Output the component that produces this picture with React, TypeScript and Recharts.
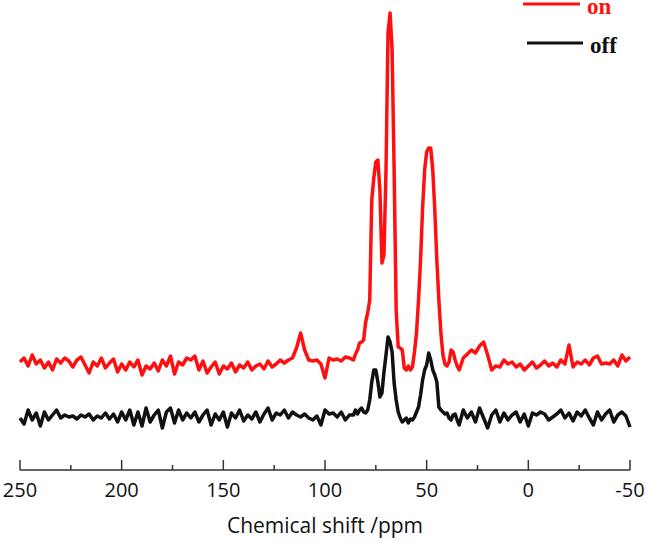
import React from "react";
import { LineChart, Line, XAxis, YAxis } from "recharts";

const ppm: number[] = [
  250, 248, 246, 244, 242, 240, 238, 236, 234, 232, 230, 228, 226, 224, 222, 220, 218, 216, 214, 212,
  210, 208, 206, 204, 202, 200, 198, 196, 194, 192, 190, 188, 186, 184, 182, 180, 178, 176, 174, 172,
  170, 168, 166, 164, 162, 160, 158, 156, 154, 152, 150, 148, 146, 144, 142, 140, 138, 136, 134, 132,
  130, 128, 126, 124, 122, 120, 118, 116, 114, 112, 110, 108, 106, 104, 102, 100, 98, 96, 94, 92,
  90, 88,
  86, 85, 84, 83, 82, 81, 80, 79, 78, 77, 76, 75, 74, 73, 72, 71, 70, 69, 68, 67,
  66, 65, 64, 63, 62, 61, 60, 59, 58, 57, 56, 55, 54, 53, 52, 51, 50, 49, 48, 47,
  46, 45, 44, 43, 42, 41, 40, 39, 38, 37, 36, 35, 34,
  32, 30, 28, 26, 24, 22, 20, 18, 16, 14, 12,
  10, 8, 6, 4, 2, 0, -2, -4, -6, -8, -10, -12, -14, -16, -18, -20, -22, -24, -26, -28,
  -30, -32, -34, -36, -38, -40, -42, -44, -46, -48, -50,
];

const onValues: number[] = [
  108, 112, 104, 115, 106, 110, 102, 108, 100, 111, 107, 112, 109, 103, 110, 113, 105, 97, 108, 104,
  112, 102, 107, 111, 98, 106, 100, 108, 103, 110, 95, 104, 101, 107, 99, 110, 104, 114, 96, 108,
  105, 112, 110, 114, 100, 109, 97, 103, 108, 96, 104, 101, 107, 98, 105, 102, 108, 100, 104, 106,
  101, 109, 103, 106, 110, 107, 110, 112, 122, 137, 120, 110, 109, 110, 106, 92, 112, 110, 111, 109,
  113, 112,
  110, 116, 120, 127, 128, 130, 148, 157, 170, 270, 292, 308, 310, 280, 207, 215, 300, 437, 457, 420,
  300, 160, 123, 122, 120, 102, 100, 104, 100, 103, 118, 137, 170, 210, 262, 300, 318, 322, 322, 300,
  260, 210, 170, 137, 115, 106, 104, 108, 120, 118, 110, 104, 100,
  112, 116, 120, 117, 124, 128, 115, 100, 104, 103, 110,
  106, 108, 103, 106, 100, 104, 108, 102, 105, 109, 104, 107, 103, 110, 106, 125, 103, 108, 106, 110,
  105, 112, 114, 106, 107, 106, 110, 104, 115, 109, 113,
];

const offValues: number[] = [
  52, 46, 60, 50, 57, 44, 58, 50, 55, 60, 52, 55, 53, 54, 51, 55, 53, 56, 50, 54,
  52, 57, 51, 56, 48, 58, 50, 60, 45, 58, 44, 62, 48, 55, 60, 42, 58, 62, 47, 60,
  50, 57, 52, 58, 48, 55, 60, 45, 56, 50, 58, 43, 57, 52, 60, 49, 55, 51, 58, 48,
  56, 62, 50, 57, 55, 60, 52, 58, 55, 53, 56, 52, 50, 54, 45, 60, 56, 57, 53, 58,
  50, 55,
  55, 60, 56, 60, 62, 58, 57, 60, 70, 88, 100, 100, 88, 73, 77, 98, 115, 133, 128, 118,
  87, 70, 58, 52, 48, 50, 52, 47, 51, 50, 53, 58, 63, 75, 90, 100, 105, 117, 110, 100,
  95, 88, 63, 60, 58, 56, 57, 52, 50, 55, 56, 50, 45,
  60, 52, 58, 48, 62, 52, 42, 55, 60, 48, 57,
  50, 55, 58, 48, 56, 44, 57, 55, 58, 56, 50, 53, 56, 60, 52, 57, 49, 58, 54, 60,
  52, 45, 58, 50, 56, 60, 48, 55, 58, 54, 43,
];

const xTicks: number[] = [250, 225, 200, 175, 150, 125, 100, 75, 50, 25, 0, -25, -50];

const data = ppm.map((p, i) => ({ ppm: p, on: onValues[i], off: offValues[i] }));

const AxisTick = (props: any) => {
  const { x, y, payload } = props;
  const v = payload.value as number;
  const major = v % 50 === 0;
  return (
    <g>
      <line x1={x} x2={x} y1={y} y2={y - (major ? 10 : 5)} stroke="#333" strokeWidth={1.5} />
      {major && (
        <text
          x={x}
          y={y + 27}
          textAnchor="middle"
          fontFamily="'Open Sans', sans-serif"
          fontSize={20}
          fill="#111"
        >
          {v}
        </text>
      )}
    </g>
  );
};

export default function App() {
  return (
    <div style={{ position: "absolute", left: 0, top: 0, width: 646, height: 541, background: "#fff" }}>
      <LineChart
        width={646}
        height={541}
        data={data}
        margin={{ top: 10, right: 16, bottom: 0, left: 20 }}
      >
        <XAxis
          dataKey="ppm"
          type="number"
          domain={[-50, 250]}
          reversed
          ticks={xTicks}
          interval={0}
          height={71}
          tickSize={0}
          tickMargin={0}
          tickLine={false}
          axisLine={{ stroke: "#333", strokeWidth: 1.5 }}
          tick={<AxisTick />}
          label={{
            value: "Chemical shift /ppm",
            position: "insideBottom",
            offset: 8,
            style: { fontFamily: "'Open Sans', sans-serif", fontSize: 21, fill: "#111" },
          }}
        />
        <YAxis hide domain={[0, 460]} />
        <Line
          type="linear"
          dataKey="off"
          stroke="#111"
          strokeWidth={3.5}
          strokeLinejoin="round"
          dot={false}
          isAnimationActive={false}
        />
        <Line
          type="linear"
          dataKey="on"
          stroke="#ff1010"
          strokeWidth={3.5}
          strokeLinejoin="round"
          dot={false}
          isAnimationActive={false}
        />
      </LineChart>
      <svg
        width={646}
        height={60}
        style={{ position: "absolute", left: 0, top: 0, pointerEvents: "none" }}
      >
        <line x1={523} x2={580} y1={4} y2={4} stroke="#ff1010" strokeWidth={3} />
        <text
          x={587}
          y={14}
          fontFamily="'Liberation Serif', 'Times New Roman', serif"
          fontWeight="bold"
          fontSize={23}
          fill="#ff1010"
        >
          on
        </text>
        <line x1={527} x2={583} y1={43} y2={43} stroke="#111" strokeWidth={3} />
        <text
          x={590}
          y={53}
          fontFamily="'Liberation Serif', 'Times New Roman', serif"
          fontWeight="bold"
          fontSize={23}
          fill="#111"
        >
          off
        </text>
      </svg>
    </div>
  );
}
